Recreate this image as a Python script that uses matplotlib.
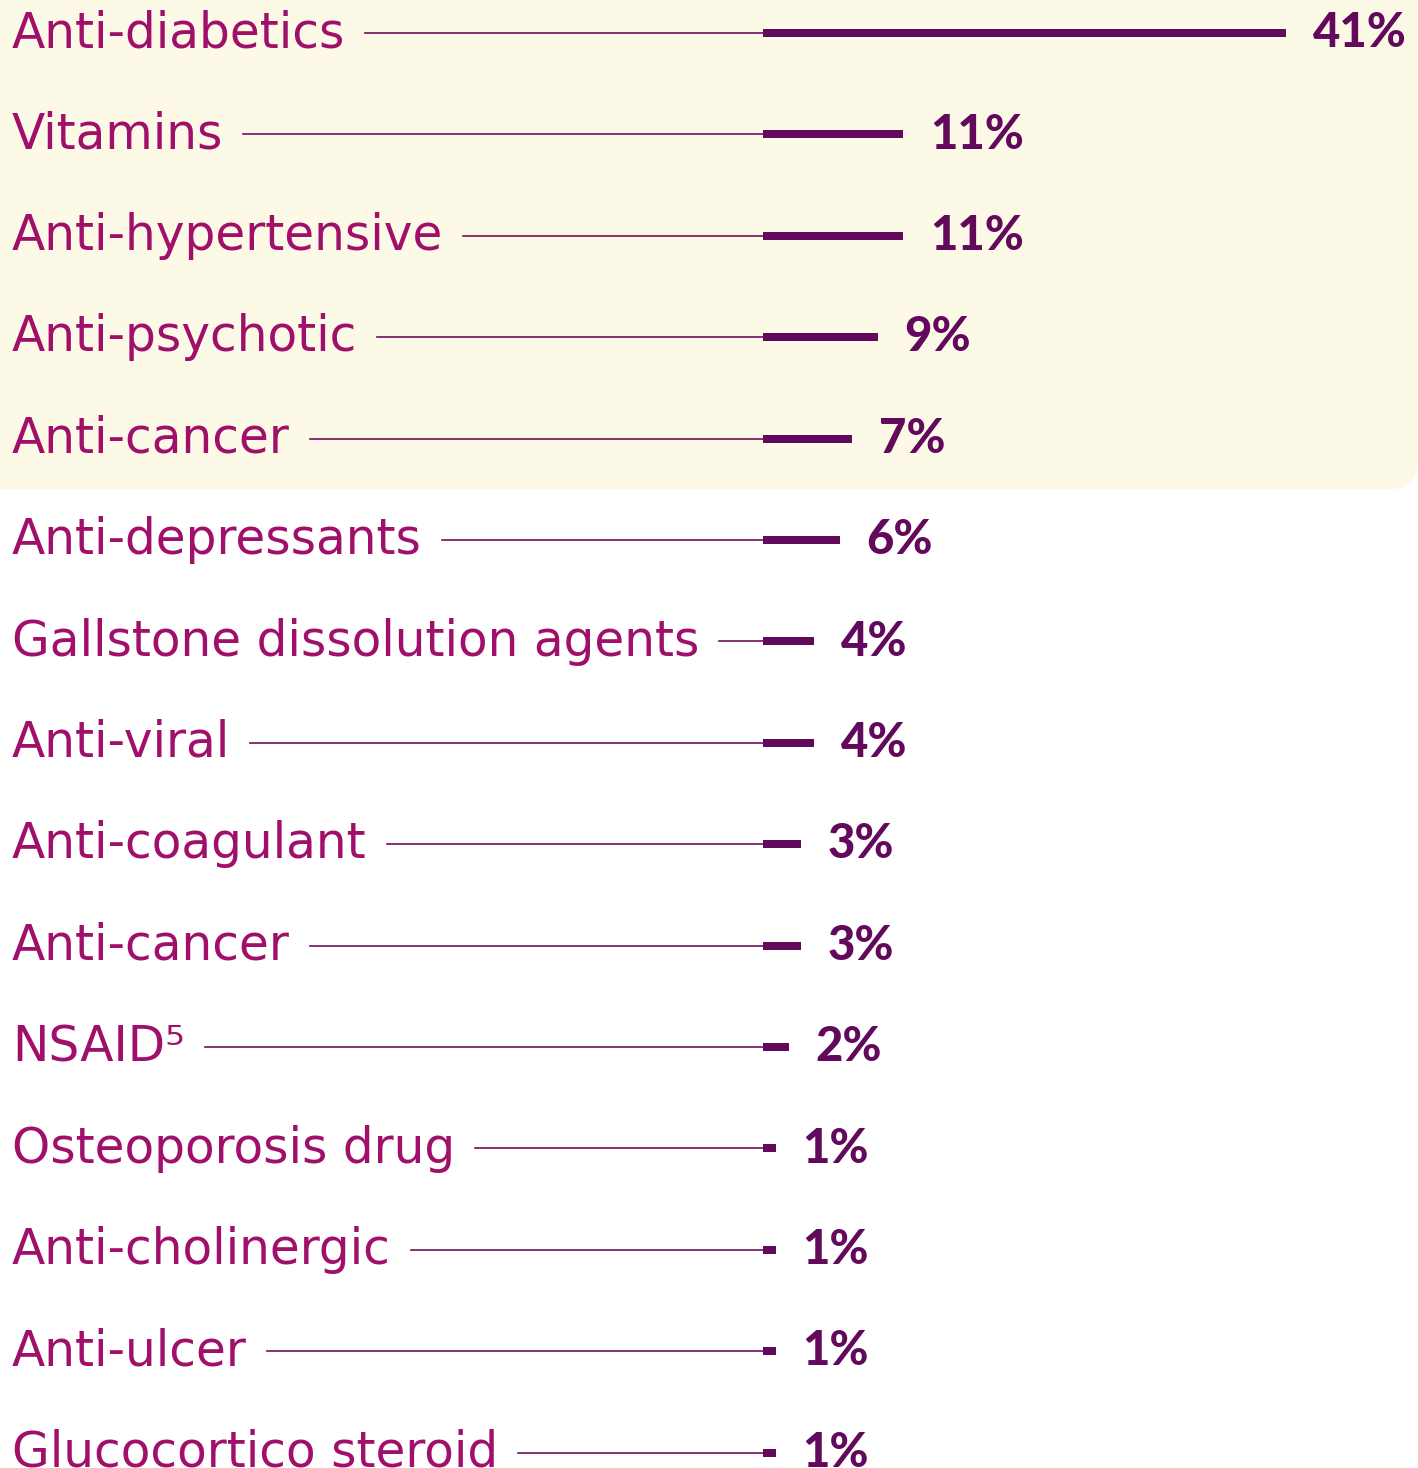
import matplotlib.pyplot as plt
from matplotlib.patches import FancyBboxPatch
from matplotlib.transforms import blended_transform_factory

# data
categories = ['Anti-diabetics', 'Vitamins', 'Anti-hypertensive', 'Anti-psychotic',
              'Anti-cancer', 'Anti-depressants', 'Gallstone dissolution agents',
              'Anti-viral', 'Anti-coagulant', 'Anti-cancer', 'NSAID\u2075',
              'Osteoporosis drug', 'Anti-cholinergic', 'Anti-ulcer',
              'Glucocortico steroid']
values = [41, 11, 11, 9, 7, 6, 4, 4, 3, 3, 2, 1, 1, 1, 1]
value_labels = ['41%', '11%', '11%', '9%', '7%', '6%', '4%', '4%', '3%', '3%',
                '2%', '1%', '1%', '1%', '1%']
n_highlight = 5

label_col = '#A0106A'
bar_col = '#62095C'
line_col = '#6E1060'
bg_col = '#FDF9E7'

W, H = 1418, 1468
px_per = 12.75         # pixels per percent
x0 = 763               # pixel position of the bar base
row0, row_h = 33, 101.4

plt.rcParams['font.family'] = ['DejaVu Sans']

fig = plt.figure(figsize=(W / 100, H / 100), dpi=100)
ax = fig.add_axes([0, 0, 1, 1])
ax.set_xlim(-x0 / px_per, (W - x0) / px_per)
ax.set_ylim((H - row0) / row_h, -row0 / row_h)
ax.axis('off')

# highlighted block behind the top rows (rounded bottom-right corner)
y_bot = row0 + (n_highlight - 0.5) * row_h
bg = FancyBboxPatch((-0.05, 1 - y_bot / H), 1.05, 0.5,
                    boxstyle='round,pad=0,rounding_size=0.02', mutation_aspect=W / H,
                    transform=fig.transFigure, fc=bg_col, ec='none', zorder=0)
ax.add_patch(bg)

ypos = list(range(len(categories)))
ax.barh(ypos, values, left=0, height=8 / row_h, color=bar_col, zorder=3)

tr = blended_transform_factory(fig.transFigure, ax.transData)
fig.canvas.draw()
renderer = fig.canvas.get_renderer()
for i, (cat, v, lab) in enumerate(zip(categories, values, value_labels)):
    t = ax.text(12 / W, i + 0.14, cat, transform=tr, fontsize=35, color=label_col,
                va='baseline', ha='left', zorder=4)
    bb = t.get_window_extent(renderer)
    x_end = ax.transData.inverted().transform((bb.x1 + 20, 0))[0]
    ax.plot([x_end, 0], [i, i], color=line_col, lw=1.2, zorder=2)
    ax.text(v + 2.1, i + 0.14, lab, fontsize=34, fontweight='black', color=bar_col,
            family=['Lato', 'DejaVu Sans'], va='baseline', ha='left', zorder=4)

fig.savefig('out.png', dpi=100)
